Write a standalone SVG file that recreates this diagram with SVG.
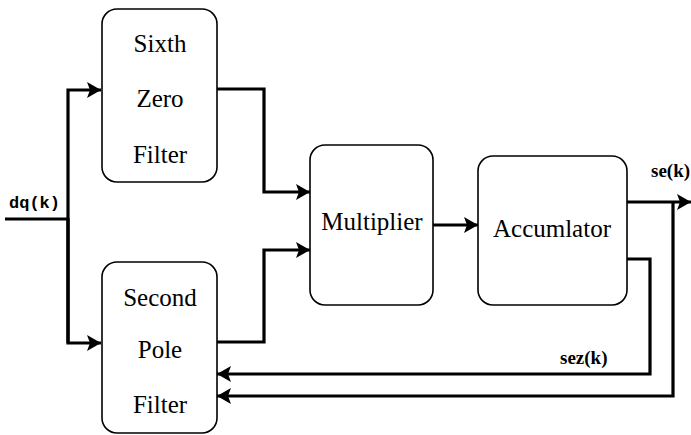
<svg xmlns="http://www.w3.org/2000/svg" width="691" height="435" viewBox="0 0 691 435">
<defs>
<marker id="ah" markerWidth="14" markerHeight="16" refX="14" refY="8" orient="auto" markerUnits="userSpaceOnUse">
<path d="M0,0 L14,8 L0,16 L3,8 Z" fill="#000"/>
</marker>
</defs>
<rect width="691" height="435" fill="#fff"/>
<g id="connectors" fill="none" stroke="#000" stroke-width="3.2">
<path d="M5,219 H68"/>
<path d="M68,343 V90 H101" marker-end="url(#ah)"/>
<path d="M68,218 V343 H101" marker-end="url(#ah)"/>
<path d="M217,89 H264 V192 H310" marker-end="url(#ah)"/>
<path d="M217,342 H264 V250 H310" marker-end="url(#ah)"/>
<path d="M433,225 H478" marker-end="url(#ah)"/>
<path d="M627,202 H691" marker-end="url(#ah)"/>
<path d="M673,202 V396 H217" marker-end="url(#ah)"/>
<path d="M627,259 H650 V374 H217" marker-end="url(#ah)"/>
</g>
<g id="sixth">
<rect x="102" y="9" width="115" height="173" rx="15" fill="#fff" stroke="#000" stroke-width="1.6"/>
<text x="160" y="52" style="font-family:'Liberation Serif',serif;font-size:25px" text-anchor="middle">Sixth</text>
<text x="160" y="107" style="font-family:'Liberation Serif',serif;font-size:25px" text-anchor="middle">Zero</text>
<text x="160" y="163" style="font-family:'Liberation Serif',serif;font-size:25px" text-anchor="middle">Filter</text>
</g>
<g id="second">
<rect x="102" y="262" width="115" height="171" rx="15" fill="#fff" stroke="#000" stroke-width="1.6"/>
<text x="160" y="306" style="font-family:'Liberation Serif',serif;font-size:25px" text-anchor="middle">Second</text>
<text x="160" y="358" style="font-family:'Liberation Serif',serif;font-size:25px" text-anchor="middle">Pole</text>
<text x="160" y="413" style="font-family:'Liberation Serif',serif;font-size:25px" text-anchor="middle">Filter</text>
</g>
<g id="multiplier">
<rect x="310" y="145" width="123" height="160" rx="15" fill="#fff" stroke="#000" stroke-width="1.6"/>
<text x="372" y="230" style="font-family:'Liberation Serif',serif;font-size:25px" text-anchor="middle">Multiplier</text>
</g>
<g id="accumulator">
<rect x="478" y="156" width="149" height="149" rx="15" fill="#fff" stroke="#000" stroke-width="1.6"/>
<text x="552" y="237" style="font-family:'Liberation Serif',serif;font-size:25px" text-anchor="middle">Accumlator</text>
</g>
<g id="labels">
<text x="9" y="208" style="font-family:'Liberation Mono',monospace;font-size:17px;font-weight:bold">dq(k)</text>
<text x="651" y="177" style="font-family:'Liberation Serif',serif;font-size:19px;font-weight:bold">se(k)</text>
<text x="560" y="364" style="font-family:'Liberation Serif',serif;font-size:19px;font-weight:bold">sez(k)</text>
</g>
</svg>
